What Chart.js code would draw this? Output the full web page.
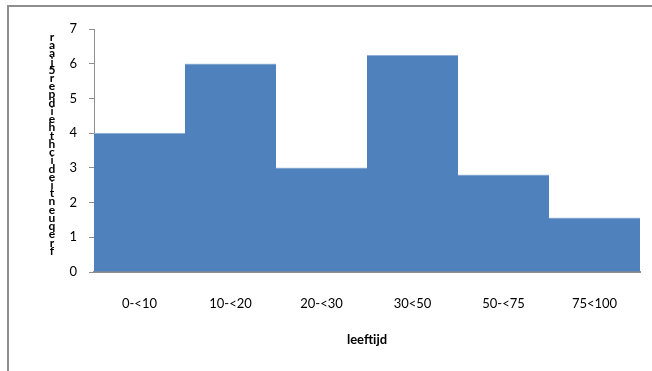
<!DOCTYPE html>
<html>
<head>
<meta charset="utf-8">
<script src="https://cdn.jsdelivr.net/npm/chart.js@4"></script>
<style>
  html, body { margin: 0; padding: 0; background: #fff; overflow: hidden; }
  #wrap { position: relative; width: 652px; height: 371px; }
  #frame { position: absolute; left: 7px; top: 5px; width: 700px; height: 400px;
           border-left: 2px solid #8e8e8e; border-top: 2px solid #8e8e8e; pointer-events: none; }
  canvas { position: absolute; left: 0; top: 0; }
</style>
</head>
<body>
<div id="wrap">
  <canvas id="c" width="652" height="371"></canvas>
  <div id="frame"></div>
</div>
<script>
const categories = ["0-<10", "10-<20", "20-<30", "30<50", "50-<75", "75<100"];
const densities = [4, 6, 3, 6.25, 2.8, 1.56];
const yTicks = [0, 1, 2, 3, 4, 5, 6, 7];
const xTitle = "leeftijd";
const yTitle = "frequentiedichtheid per 5 jaar";

const FONT = "Lato, 'Open Sans', sans-serif";

const stackedTitle = {
  id: 'stackedTitle',
  afterDraw(chart) {
    const ctx = chart.ctx;
    ctx.save();
    ctx.font = "bold 12px " + FONT;
    ctx.fillStyle = "#000";
    ctx.textAlign = "center";
    ctx.textBaseline = "middle";
    const chars = Array.from(yTitle).filter(ch => ch !== ' ');
    const bottom = 251, top = 37;
    const step = (bottom - top) / (chars.length - 1);
    chars.forEach((ch, i) => {
      ctx.fillText(ch, 52, bottom - i * step);
    });
    ctx.restore();
  }
};

new Chart(document.getElementById('c'), {
  type: 'bar',
  data: {
    labels: categories,
    datasets: [{
      data: densities,
      backgroundColor: '#4F81BD',
      borderColor: '#a9c0e0',
      borderWidth: { top: 1, left: 0, right: 0, bottom: 0 },
      barPercentage: 1,
      categoryPercentage: 1
    }]
  },
  options: {
    responsive: false,
    animation: false,
    layout: { padding: { left: 0, right: 12, top: 29, bottom: 0 } },
    plugins: { legend: { display: false }, tooltip: { enabled: false } },
    scales: {
      x: {
        grid: { display: false, drawTicks: false },
        border: { display: true, color: '#8e8e8e', width: 2 },
        ticks: { color: '#000', font: { family: FONT, size: 13 }, padding: 24, maxRotation: 0 },
        title: { display: true, text: xTitle, color: '#000',
                 font: { family: FONT, size: 13, weight: 'bold' }, padding: { top: 0, bottom: 23 } },
        afterFit(scale) { scale.height = 99; }
      },
      y: {
        min: 0, max: 7,
        afterBuildTicks(scale) { scale.ticks = yTicks.map(v => ({ value: v })); },
        grid: { drawOnChartArea: false, drawTicks: true, tickLength: 5, color: '#8e8e8e', lineWidth: 1 },
        border: { display: true, color: '#8e8e8e', width: 1 },
        ticks: { color: '#000', font: { family: FONT, size: 13 }, padding: 12 },
        afterFit(scale) { scale.width = 94; }
      }
    }
  },
  plugins: [stackedTitle]
});
</script>
</body>
</html>
